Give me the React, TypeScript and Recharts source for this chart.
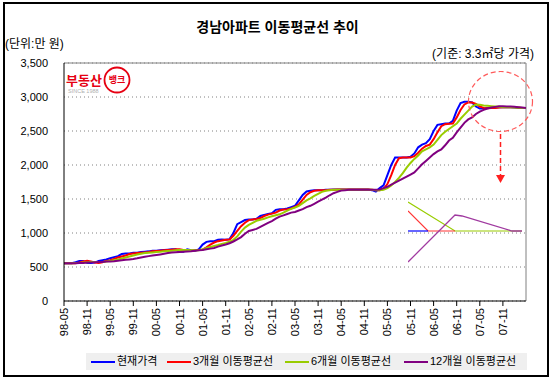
import React from 'react';
import { LineChart, Line, XAxis, YAxis, CartesianGrid, ReferenceLine } from 'recharts';

const MONTHS = [
  '98-05', '98-06', '98-07', '98-08', '98-09', '98-10', '98-11', '98-12',
  '99-01', '99-02', '99-03', '99-04', '99-05', '99-06', '99-07', '99-08', '99-09', '99-10', '99-11', '99-12',
  '00-01', '00-02', '00-03', '00-04', '00-05', '00-06', '00-07', '00-08', '00-09', '00-10', '00-11', '00-12',
  '01-01', '01-02', '01-03', '01-04', '01-05', '01-06', '01-07', '01-08', '01-09', '01-10', '01-11', '01-12',
  '02-01', '02-02', '02-03', '02-04', '02-05', '02-06', '02-07', '02-08', '02-09', '02-10', '02-11', '02-12',
  '03-01', '03-02', '03-03', '03-04', '03-05', '03-06', '03-07', '03-08', '03-09', '03-10', '03-11', '03-12',
  '04-01', '04-02', '04-03', '04-04', '04-05', '04-06', '04-07', '04-08', '04-09', '04-10', '04-11', '04-12',
  '05-01', '05-02', '05-03', '05-04', '05-05', '05-06', '05-07', '05-08', '05-09', '05-10', '05-11', '05-12',
  '06-01', '06-02', '06-03', '06-04', '06-05', '06-06', '06-07', '06-08', '06-09', '06-10', '06-11', '06-12',
  '07-01', '07-02', '07-03', '07-04', '07-05', '07-06', '07-07', '07-08', '07-09', '07-10', '07-11', '07-12',
  '08-01', '08-02', '08-03', '08-04', '08-05',
];

const TICK_LABELS = [
  '98-05', '98-11', '99-05', '99-11', '00-05', '00-11', '01-05', '01-11', '02-05', '02-11',
  '03-05', '03-11', '04-05', '04-11', '05-05', '05-11', '06-05', '06-11', '07-05', '07-11',
];

const Y_TICKS = [0, 500, 1000, 1500, 2000, 2500, 3000, 3500];

// 현재가격
const PRICE = [
  555, 555, 555, 570, 590, 590, 560, 560, 565, 590,
  600, 610, 630, 645, 660, 690, 700, 700, 710, 710,
  720, 725, 730, 740, 740, 745, 750, 755, 760, 760,
  725, 725, 760, 745, 740, 760, 830, 870, 880, 880,
  900, 905, 900, 910, 1000, 1130, 1160, 1190, 1200, 1200,
  1210, 1250, 1265, 1280, 1290, 1340, 1350, 1350, 1360, 1380,
  1400, 1480, 1560, 1610, 1620, 1630, 1630, 1630, 1635, 1635,
  1640, 1640, 1640, 1640, 1640, 1640, 1640, 1640, 1640, 1640,
  1630, 1610, 1660, 1700, 1850, 2000, 2110, 2110, 2110, 2110,
  2120, 2170, 2260, 2300, 2320, 2380, 2500, 2590, 2600, 2610,
  2610, 2650, 2800, 2910, 2930, 2930, 2920, 2860, 2830, 2830,
  2840, 2840, 2845, 2850, 2850, 2850, 2850, 2845, 2840, 2840, 2840,
];

// 3개월 이동평균선
const MA3 = [
  555, 555, 555, 555, 565, 580, 590, 580, 565, 560,
  570, 590, 600, 620, 640, 655, 670, 690, 700, 705,
  710, 715, 720, 730, 735, 740, 745, 750, 755, 760,
  760, 750, 735, 740, 745, 750, 755, 790, 830, 860,
  880, 890, 900, 905, 960, 1030, 1100, 1150, 1190, 1200,
  1205, 1220, 1250, 1270, 1285, 1300, 1330, 1345, 1350, 1360,
  1385, 1420, 1490, 1560, 1600, 1620, 1630, 1630, 1630, 1635,
  1635, 1640, 1640, 1640, 1640, 1640, 1640, 1640, 1640, 1640,
  1635, 1630, 1630, 1650, 1720, 1850, 2000, 2100, 2110, 2110,
  2110, 2130, 2180, 2240, 2280, 2300, 2380, 2480, 2570, 2600,
  2605, 2610, 2700, 2810, 2890, 2920, 2920, 2900, 2860, 2840,
  2835, 2840, 2840, 2845, 2850, 2850, 2850, 2848, 2845, 2840, 2840,
];

// 6개월 이동평균선
const MA6 = [
  555, 555, 555, 558, 560, 565, 570, 575, 575, 575,
  575, 580, 590, 600, 610, 625, 640, 655, 670, 685,
  695, 705, 710, 715, 720, 725, 730, 735, 740, 745,
  750, 750, 750, 748, 745, 748, 760, 780, 795, 810,
  823, 840, 855, 872, 900, 950, 1020, 1080, 1120, 1150,
  1180, 1195, 1210, 1230, 1245, 1260, 1275, 1300, 1330, 1355,
  1375, 1400, 1440, 1480, 1510, 1545, 1575, 1605, 1620, 1630,
  1635, 1635, 1635, 1635, 1635, 1635, 1635, 1635, 1635, 1635,
  1635, 1630, 1630, 1635, 1660, 1700, 1750, 1810, 1880, 1960,
  2030, 2090, 2140, 2200, 2230, 2260, 2300, 2370, 2440, 2490,
  2530, 2570, 2610, 2680, 2740, 2800, 2860, 2890, 2885, 2875,
  2870, 2865, 2860, 2855, 2850, 2850, 2848, 2845, 2842, 2840, 2840,
];

// 12개월 이동평균선
const MA12 = [
  555, 555, 555, 555, 558, 560, 565, 568, 570, 572,
  575, 580, 580, 585, 592, 598, 605, 612, 618, 628,
  640, 650, 660, 668, 676, 685, 695, 705, 712, 718,
  722, 725, 728, 732, 738, 745, 750, 760, 770, 780,
  800, 815, 830, 850, 875, 905, 940, 990, 1030, 1045,
  1060, 1090, 1120, 1150, 1175, 1210, 1240, 1260, 1280, 1300,
  1310, 1330, 1350, 1380, 1400, 1430, 1460, 1490, 1520, 1555,
  1585, 1605, 1625, 1630, 1635, 1635, 1635, 1635, 1635, 1635,
  1635, 1635, 1640, 1660, 1680, 1710, 1740, 1770, 1800, 1830,
  1860, 1890, 1950, 2010, 2060, 2110, 2160, 2200, 2230, 2290,
  2360, 2400, 2480, 2550, 2620, 2670, 2700, 2750, 2785, 2810,
  2830, 2845, 2855, 2865, 2865, 2862, 2860, 2855, 2850, 2845, 2840,
];

// inset sketch (schematic units)
const INSET_BLUE = [{ x: 0, y: 0 }, { x: 20, y: 0 }];
const INSET_RED = [{ x: 0, y: 20 }, { x: 20, y: 0 }, { x: 47, y: 0 }];
const INSET_GREEN = [{ x: 0, y: 29 }, { x: 47, y: 0 }, { x: 114, y: 0 }];
const INSET_PURPLE = [{ x: 0, y: -31 }, { x: 47, y: 16 }, { x: 54, y: 15 }, { x: 104, y: 0 }, { x: 114, y: 0 }];

const SERIES = [
  { key: 'price', name: '현재가격', color: '#0000ff' },
  { key: 'ma3', name: '3개월 이동평균선', color: '#ff0000' },
  { key: 'ma6', name: '6개월 이동평균선', color: '#99cc00' },
  { key: 'ma12', name: '12개월 이동평균선', color: '#800080' },
];

const data = MONTHS.map((m, i) => ({
  name: m,
  price: PRICE[i],
  ma3: MA3[i],
  ma6: MA6[i],
  ma12: MA12[i],
}));

const FONT = "'Liberation Sans', 'Noto Sans CJK KR', sans-serif";

function XTick({ x, y, payload }: any) {
  return (
    <text
      x={x}
      y={y}
      transform={`rotate(-90 ${x} ${y})`}
      textAnchor="end"
      dominantBaseline="central"
      fontSize={11}
      fill="#000"
      fontFamily={FONT}
    >
      {payload.value}
    </text>
  );
}

export default function App() {
  return (
    <div
      style={{
        position: 'absolute',
        left: 0,
        top: 0,
        width: 555,
        height: 382,
        background: '#fff',
        fontFamily: FONT,
        color: '#000',
      }}
    >
      {/* frame */}
      <div
        style={{
          position: 'absolute',
          left: 3,
          top: 2,
          width: 546,
          height: 375,
          border: '2px solid #000',
          boxSizing: 'border-box',
        }}
      />
      <div
        style={{
          position: 'absolute',
          left: 0,
          width: 555,
          top: 17,
          textAlign: 'center',
          fontSize: 14,
          fontWeight: 700,
          lineHeight: '20px',
        }}
      >
        경남아파트 이동평균선 추이
      </div>
      <div style={{ position: 'absolute', left: 5, top: 36, fontSize: 12, lineHeight: '16px' }}>(단위:만 원)</div>
      <div style={{ position: 'absolute', right: 21, top: 46, fontSize: 12, lineHeight: '16px' }}>
        (기준: 3.3㎡당 가격)
      </div>

      <div style={{ position: 'absolute', left: 0, top: 0 }}>
        <LineChart width={555} height={382} data={data} margin={{ top: 63, right: 29, bottom: 41, left: 14 }}>
          <CartesianGrid vertical={false} stroke="#808080" strokeDasharray="1 3" />
          <XAxis
            dataKey="name"
            ticks={TICK_LABELS}
            interval={0}
            height={40}
            tick={<XTick />}
            tickSize={5}
            tickMargin={2}
            axisLine={{ stroke: '#000' }}
            tickLine={{ stroke: '#000' }}
          />
          <YAxis
            width={50}
            domain={[0, 3500]}
            ticks={Y_TICKS}
            interval={0}
            tickFormatter={(v: number) => v.toLocaleString('en-US')}
            tick={{ fontSize: 11, fill: '#000', fontFamily: FONT }}
            tickLine={false}
            tickSize={0}
            tickMargin={16}
            axisLine={{ stroke: '#000' }}
          />
          <ReferenceLine y={3500} stroke="#808080" />
          <ReferenceLine x="08-05" stroke="#808080" />
          {SERIES.map((s) => (
            <Line
              key={s.key}
              dataKey={s.key}
              name={s.name}
              stroke={s.color}
              strokeWidth={2}
              dot={false}
              activeDot={false}
              type="linear"
              isAnimationActive={false}
            />
          ))}
        </LineChart>
      </div>

      {/* inset sketch */}
      <div style={{ position: 'absolute', left: 408, top: 196 }}>
        <LineChart width={114} height={70} margin={{ top: 0, right: 0, bottom: 0, left: 0 }}>
          <XAxis type="number" dataKey="x" domain={[0, 114]} hide />
          <YAxis type="number" domain={[-35, 35]} hide />
          <Line data={INSET_GREEN} dataKey="y" stroke="#99cc00" strokeWidth={1.2} dot={false} activeDot={false} isAnimationActive={false} />
          <Line data={INSET_RED} dataKey="y" stroke="#ff3333" strokeWidth={1.2} dot={false} activeDot={false} isAnimationActive={false} />
          <Line data={INSET_BLUE} dataKey="y" stroke="#0000ff" strokeWidth={1.2} dot={false} activeDot={false} isAnimationActive={false} />
          <Line data={INSET_PURPLE} dataKey="y" stroke="#a03aa0" strokeWidth={1.3} dot={false} activeDot={false} isAnimationActive={false} />
        </LineChart>
      </div>

      {/* logo, circle, arrow */}
      <svg width={555} height={382} style={{ position: 'absolute', left: 0, top: 0, pointerEvents: 'none' }}>
        <text x={66} y={85} fontSize={13} fontWeight={700} fill="#e60012" fontFamily={FONT}>
          부동산
        </text>
        <circle cx={117} cy={80} r={12.5} fill="none" stroke="#e60012" strokeWidth={1.8} />
        <text x={117} y={83} fontSize={9} fontWeight={700} fill="#e60012" textAnchor="middle" fontFamily={FONT}>
          뱅크
        </text>
        <text x={68} y={93} fontSize={5.5} fill="#b0b0b0" fontFamily={FONT}>
          SINCE 1988
        </text>
        <ellipse cx={500.5} cy={101.5} rx={32} ry={30} fill="none" stroke="#ff5a5a" strokeWidth={1.2} strokeDasharray="5 3" />
        <line x1={500.5} y1={134} x2={500.5} y2={176} stroke="#ff2020" strokeWidth={1.5} strokeDasharray="5 3" />
        <polygon points="496,175 505,175 500.5,183" fill="#ff2020" />
      </svg>

      {/* legend */}
      <div
        style={{
          position: 'absolute',
          left: 86,
          top: 353,
          width: 441,
          height: 17,
          background: '#efefef',
        }}
      >
        {SERIES.map((s, i) => {
          const lefts = [5, 81, 199, 318];
          return (
            <div
              key={s.key}
              style={{
                position: 'absolute',
                left: lefts[i],
                top: 0,
                height: 17,
                display: 'flex',
                alignItems: 'center',
                whiteSpace: 'nowrap',
              }}
            >
              <span style={{ display: 'inline-block', width: 24, height: 2, background: s.color }} />
              <span style={{ fontSize: 11, marginLeft: 2, lineHeight: '17px' }}>{s.name}</span>
            </div>
          );
        })}
      </div>
    </div>
  );
}
